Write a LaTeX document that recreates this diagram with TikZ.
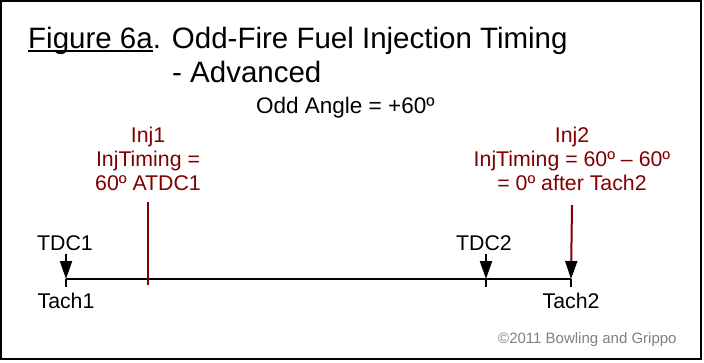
\documentclass[tikz,border=0pt]{standalone}
\usepackage{fontspec}
\setmainfont{Liberation Sans}
\usetikzlibrary{arrows.meta}
\definecolor{injred}{RGB}{128,0,0}
\definecolor{copygray}{RGB}{128,128,128}
% underline sitting close to the baseline
\newcommand{\figul}[1]{\setbox0\hbox{#1}\rlap{\rule[-4.3pt]{\wd0}{2.2pt}}#1}

\begin{document}
\begin{tikzpicture}[
    x=1pt, y=-1pt,
    title/.style={anchor=base west, inner sep=0pt, font=\fontsize{29.5}{34}\selectfont},
    lbl/.style={inner sep=0pt, font=\fontsize{21.3}{24}\selectfont},
    injlbl/.style={lbl, align=center, text=injred, anchor=north},
    axis/.style={line width=2pt},
    marker/.style={line width=2pt, -{Triangle[width=12pt, length=18pt]}},
    injline/.style={line width=2pt, injred}
]
    % Frame and page size
    \useasboundingbox (0,0) rectangle (704,362);
    \draw[line width=1.5pt] (1,1) rectangle (701,359);

    % Title
    \node[title] (fig) at (28,48) {\figul{Figure 6a}. Odd-Fire Fuel Injection Timing};
    \node[title] (adv) at (172,82) {- Advanced};
    \node[lbl, anchor=base west, font=\fontsize{22.5}{26}\selectfont] (odd) at (256,113) {Odd Angle = +60º};

    % Timeline points
    \coordinate (tachA) at (66,279);
    \coordinate (tdcB) at (486,279);
    \coordinate (tachB) at (571,279);
    \coordinate (tdcAtop) at (66,254);
    \coordinate (tdcBtop) at (486,254);
    \coordinate (injAbot) at (148,285);

    % Timeline
    \draw[axis] (tachA) -- (tachB);
    \foreach \p in {tachA, tdcB, tachB}
        \draw[axis] (\p) -- ++(0,8);

    % TDC markers
    \node[lbl, anchor=base] (tdcA) at (65,250) {TDC1};
    \node[lbl, anchor=base] (tdcBlbl) at (484,250) {TDC2};
    \draw[marker] (tdcAtop) -- (tachA);
    \draw[marker] (tdcBtop) -- (tdcB);
    \node[lbl, anchor=north] (tachAlbl) at (66,293) {Tach1};
    \node[lbl, anchor=north] (tachBlbl) at (571,293) {Tach2};

    % Injection events
    \node[injlbl] (injA) at (148,127) {Inj1\\InjTiming =\\60º ATDC1};
    \node[injlbl] (injB) at (572,127) {Inj2\\InjTiming = 60º – 60º\\= 0º after Tach2};
    \draw[injline] ([yshift=-11pt]injA.south) -- (injAbot);
    \draw[injline, -{Triangle[width=12pt, length=18pt, black]}] ([yshift=-14pt]injB.south) -- (tachB);

    % Copyright
    \node[inner sep=0pt, anchor=base west, text=copygray, font=\fontsize{15}{18}\selectfont] (copy) at (498,343) {©2011 Bowling and Grippo};
\end{tikzpicture}
\end{document}
